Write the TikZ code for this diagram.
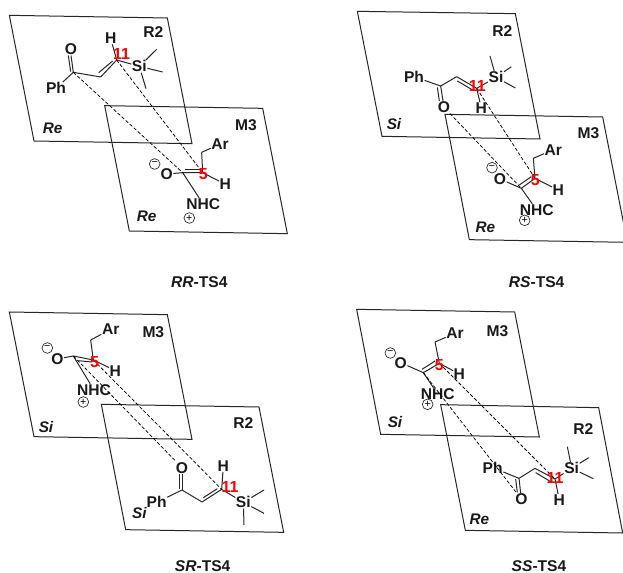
\documentclass[tikz,border=0pt]{standalone}
\usepackage{fontspec}
\setmainfont{Liberation Sans}
\usetikzlibrary{calc}
\tikzset{
 plane/.style={draw=black!85,line width=.75pt,line join=miter},
 bond/.style={draw=black!85,line width=.75pt},
 ts/.style={draw=black,line width=.55pt,dash pattern=on 2.6pt off 1.5pt},
 atom/.style={font=\fontsize{11.7}{13}\selectfont\bfseries,inner sep=.3pt,text=black!90},
 lab/.style={font=\fontsize{11.7}{13}\selectfont\bfseries,inner sep=0pt,text=black!90},
 face/.style={font=\fontsize{11.5}{13}\selectfont\bfseries\itshape,inner sep=0pt,text=black!90},
 num/.style={font=\fontsize{12}{13}\selectfont\bfseries,inner sep=0pt,text=red},
 chg/.style={circle,draw=black!85,line width=.5pt,minimum size=8pt,inner sep=0pt,font=\fontsize{8}{8}\selectfont},
 panel/.style={x=.25pt,y=-.25pt,shift={#1}},
}
\begin{document}
\begin{tikzpicture}[x=1pt,y=1pt]
\useasboundingbox (0,0) rectangle (467.25pt,-429.75pt);
% ---------- RR
\begin{scope}[panel={(0pt,0pt)},name prefix=a]
\draw[plane] (28,46)--(502,54)--(576,431)--(102,423)--cycle;
\draw[plane] (314,317)--(788,325)--(862,701)--(388,693)--cycle;
\node[lab] (r) at (460,97) {R2};
\node[lab] (m) at (738,375) {M3};
\node[face] (f1) at (158,385) {Re};
\node[face] (f2) at (440,648) {Re};
\node[lab] (t) at (598,847) {\textit{RR}-TS4};
\node[atom] (O) at (213,148) {O};
\node[atom] (Ph) at (168,265) {Ph};
\node[atom] (H) at (332,115) {H};
\node[atom] (Si) at (418,199) {Si};
\coordinate (c1) at (220,217); \coordinate (c2) at (302,231); \coordinate (c3) at (350,180);
\coordinate (me1) at (470,148); \coordinate (me2) at (488,216); \coordinate (me3) at (438,266);
\draw[bond] (c1)--(O.south); \draw[bond] ($(c1)+(-8,-2)$)--($(O.south)+(-8,0)$);
\draw[bond] (c1)--(Ph) (c1)--(c2) (c3)--(H) (c3)--(Si) (Si)--(me1) (Si)--(me2) (Si)--(me3);
\draw[bond] (c2)--(c3); \draw[bond] (296,218)--(338,183);
\node[atom] (O2) at (500,522) {O};
\node[atom] (Ar) at (660,432) {Ar};
\node[atom] (H2) at (676,553) {H};
\node[atom] (N) at (610,613) {NHC};
\coordinate (c) at (548,518); \coordinate (c5) at (608,518); \coordinate (ch) at (605,457);
\draw[bond] (O2)--(c) (c)--(c5) (c5)--(ch) (ch)--(Ar) (c5)--(H2) (c)--(N);
\draw[bond] (554,509)--(600,509);
\draw[ts] (c1)--(c); \draw[ts] (c3)--(c5);
\node[chg] (mi) at (464,492) {−};
\node[chg] (pl) at (568,654) {+};
\node[num] (n11) at (365,163) {11};
\node[num] (n5) at (610,523) {5};
\end{scope}
% ---------- RS
\begin{scope}[panel={(240pt,0pt)},name prefix=b]
\draw[plane] (112,34)--(586,41)--(660,417)--(186,409)--cycle;
\draw[plane] (375,343)--(848,351)--(922,727)--(448,719)--cycle;
\node[lab] (r) at (547,93) {R2};
\node[lab] (m) at (805,400) {M3};
\node[face] (f1) at (222,372) {Si};
\node[face] (f2) at (496,682) {Re};
\node[lab] (t) at (650,845) {\textit{RS}-TS4};
\node[atom] (O) at (372,322) {O};
\node[atom] (Ph) at (282,230) {Ph};
\node[atom] (H) at (484,325) {H};
\node[atom] (Si) at (528,232) {Si};
\coordinate (c1) at (362,258); \coordinate (c2) at (410,230); \coordinate (c3) at (470,265);
\coordinate (me1) at (510,168); \coordinate (me2) at (574,200); \coordinate (me3) at (586,264);
\draw[bond] (c1)--(O); \draw[bond] (352,262)--(358,303);
\draw[bond] (c1)--(Ph) (c1)--(c2) (c3)--(H) (c3)--(Si) (Si)--(me1) (Si)--(me2) (Si)--(me3);
\draw[bond] (c2)--(c3); \draw[bond] (412,243)--(458,270);
\node[atom] (O2) at (540,537) {O};
\node[atom] (Ar) at (700,449) {Ar};
\node[atom] (H2) at (715,570) {H};
\node[atom] (N) at (650,630) {NHC};
\coordinate (c) at (604,565); \coordinate (c5) at (645,535); \coordinate (ch) at (640,475);
\draw[bond] (O2)--(c) (c)--(c5) (c5)--(ch) (ch)--(Ar) (c5)--(H2) (c)--(N);
\draw[bond] (598,555)--(634,530);
\draw[ts] (O)--(c); \draw[ts] (c3)--(c5);
\node[chg] (mi) at (516,503) {−};
\node[chg] (pl) at (614,661) {+};
\node[num] (n11) at (472,258) {11};
\node[num] (n5) at (646,540) {5};
\end{scope}
% ---------- SR
\begin{scope}[panel={(0pt,-225pt)},name prefix=c]
\draw[plane] (28,36)--(502,44)--(576,418)--(102,410)--cycle;
\draw[plane] (304,313)--(777,321)--(851,697)--(377,689)--cycle;
\node[lab] (m) at (460,95) {M3};
\node[lab] (r) at (730,368) {R2};
\node[face] (f1) at (138,382) {Si};
\node[face] (f2) at (418,640) {Si};
\node[lab] (t) at (608,798) {\textit{SR}-TS4};
\node[atom] (O2) at (172,177) {O};
\node[atom] (Ar) at (332,88) {Ar};
\node[atom] (H2) at (346,212) {H};
\node[atom] (N) at (282,270) {NHC};
\coordinate (c) at (220,168); \coordinate (c5) at (280,180); \coordinate (ch) at (272,120);
\draw[bond] (O2)--(c) (c)--(c5) (c5)--(ch) (ch)--(Ar) (c5)--(H2) (c)--(N);
\draw[bond] (235,182)--(275,186);
\node[atom] (O) at (546,503) {O};
\node[atom] (Ph) at (470,607) {Ph};
\node[atom] (H) at (670,498) {H};
\node[atom] (Si) at (730,607) {Si};
\coordinate (c1) at (546,570); \coordinate (c2) at (606,606); \coordinate (c3) at (665,568);
\coordinate (me1) at (792,570); \coordinate (me2) at (792,640); \coordinate (me3) at (732,675);
\draw[bond] (c1)--(O); \draw[bond] (537,568)--(537,523);
\draw[bond] (c1)--(Ph) (c1)--(c2) (c3)--(H) (c3)--(Si) (Si)--(me1) (Si)--(me2) (Si)--(me3);
\draw[bond] (c2)--(c3); \draw[bond] (610,593)--(652,566);
\draw[ts] (c)--(O); \draw[ts] (c5)--(c3);
\node[chg] (mi) at (142,144) {−};
\node[chg] (pl) at (250,306) {+};
\node[num] (n11) at (690,562) {11};
\node[num] (n5) at (284,186) {5};
\end{scope}
% ---------- SS
\begin{scope}[panel={(240pt,-225pt)},name prefix=d]
\draw[plane] (110,28)--(584,36)--(658,411)--(182,403)--cycle;
\draw[plane] (362,314)--(836,323)--(908,699)--(436,691)--cycle;
\node[lab] (m) at (532,93) {M3};
\node[lab] (r) at (790,387) {R2};
\node[face] (f1) at (225,367) {Si};
\node[face] (f2) at (478,657) {Re};
\node[lab] (t) at (657,797) {\textit{SS}-TS4};
\node[atom] (O2) at (242,188) {O};
\node[atom] (Ar) at (405,100) {Ar};
\node[atom] (H2) at (418,222) {H};
\node[atom] (N) at (353,282) {NHC};
\coordinate (c) at (310,218); \coordinate (c5) at (358,190); \coordinate (ch) at (345,126);
\draw[bond] (O2)--(c) (c)--(c5) (c5)--(ch) (ch)--(Ar) (c5)--(H2) (c)--(N);
\draw[bond] (306,208)--(345,183);
\node[atom] (O) at (604,597) {O};
\node[atom] (Ph) at (518,503) {Ph};
\node[atom] (H) at (718,600) {H};
\node[atom] (Si) at (755,505) {Si};
\coordinate (c1) at (597,535); \coordinate (c2) at (645,505); \coordinate (c3) at (705,537);
\coordinate (me1) at (742,440); \coordinate (me2) at (806,473); \coordinate (me3) at (820,536);
\draw[bond] (c1)--(O); \draw[bond] (587,537)--(592,577);
\draw[bond] (c1)--(Ph) (c1)--(c2) (c3)--(H) (c3)--(Si) (Si)--(me1) (Si)--(me2) (Si)--(me3);
\draw[bond] (c2)--(c3); \draw[bond] (647,518)--(692,545);
\draw[ts] (c)--(O); \draw[ts] (c5)--(c3);
\node[chg] (mi) at (211,159) {−};
\node[chg] (pl) at (323,313) {+};
\node[num] (n11) at (705,535) {11};
\node[num] (n5) at (358,195) {5};
\end{scope}
\end{tikzpicture}
\end{document}
